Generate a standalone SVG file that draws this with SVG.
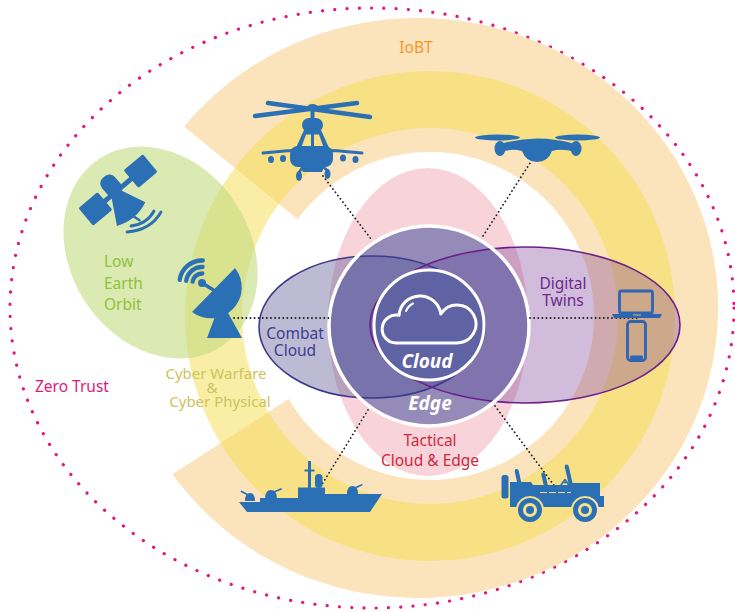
<svg xmlns="http://www.w3.org/2000/svg" width="735" height="612" viewBox="0 0 735 612">
  <defs>
    <style>
      text{font-family:"Noto Sans","Open Sans","DejaVu Sans",sans-serif;font-size:15.5px}
      .mid{text-anchor:middle}
      .blue{fill:#2b70b5}
      .bline{fill:none;stroke:#2b70b5;stroke-linecap:round;stroke-linejoin:round}
      .link{fill:none;stroke:#1e1e1e;stroke-width:1.8;stroke-dasharray:0.1 4;stroke-linecap:round}
      .badge{font-weight:700;font-style:italic;font-size:19px;fill:#fff}
      .tight{font-size:15px}
    </style>
  </defs>
  <rect width="735" height="612" fill="#fff"/>

  <!-- outer trust perimeter -->
  <g id="zero-trust">
    <ellipse cx="372" cy="308" rx="362" ry="300" fill="none" stroke="#e2177c" stroke-width="3.2" stroke-linecap="round" stroke-dasharray="0.1 12.2"/>
    <text x="35" y="392" fill="#e2177c">Zero Trust</text>
  </g>

  <!-- IoBT band, open on the left -->
  <g id="iobt">
    <path d="M184,126.6 A300,290 0 1 1 172.4,474.3 L288.6,399 A164,164 0 1 0 297.6,219.3 Z" fill="#fbe3bb"/>
    <text class="mid" x="416" y="53" fill="#f5962a" font-size="16">IoBT</text>
  </g>

  <!-- cyber ring -->
  <g id="cyber">
    <circle cx="430" cy="316" r="216.5" fill="none" stroke="#f5df55" stroke-opacity=".52" stroke-width="57"/>
    <g fill="#cdc25e" class="tight">
      <text class="mid tight" x="216" y="379">Cyber Warfare</text>
      <text class="mid tight" x="212" y="393">&amp;</text>
      <text class="mid tight" x="220" y="407">Cyber Physical</text>
    </g>
  </g>

  <!-- low earth orbit -->
  <g id="leo">
    <ellipse cx="160.5" cy="252.5" rx="90" ry="112" transform="rotate(-33 160.5 252.5)" fill="#c3da80" fill-opacity=".6"/>
    <g fill="#8fc23c">
      <text x="104" y="267">Low</text>
      <text x="104" y="289">Earth</text>
      <text x="104" y="310">Orbit</text>
    </g>
  </g>

  <!-- tactical cloud and edge -->
  <g id="tactical">
    <ellipse cx="428" cy="322" rx="100" ry="154" fill="#f8d4da"/>
    <g fill="#d0283a">
      <text class="mid" x="430" y="446">Tactical</text>
      <text class="mid" x="430" y="466">Cloud &amp; Edge</text>
    </g>
  </g>

  <g id="combat-cloud">
    <ellipse cx="372" cy="327" rx="113" ry="71" fill="#575591" fill-opacity=".4"/>
    <g fill="#3f3c93">
      <text class="mid" x="295" y="339">Combat</text>
      <text class="mid" x="295" y="356">Cloud</text>
    </g>
  </g>

  <g id="digital-twins">
    <ellipse cx="525" cy="325" rx="155" ry="78" fill="#7e4098" fill-opacity=".35"/>
    <g fill="#6a2b8f">
      <text class="mid" x="563" y="289">Digital</text>
      <text class="mid" x="563" y="306">Twins</text>
    </g>
  </g>

  <g id="edge">
    <circle cx="429" cy="326" r="100" fill="#444e9d" fill-opacity=".55"/>
    <ellipse cx="372" cy="327" rx="113" ry="71" fill="none" stroke="#3d3a8e" stroke-width="1.6"/>
    <ellipse cx="525" cy="325" rx="155" ry="78" fill="none" stroke="#6c1f8a" stroke-width="1.6"/>
    <circle cx="429" cy="326" r="100" fill="none" stroke="#fff" stroke-width="3.5"/>
    <text class="badge mid" x="430" y="410">Edge</text>
  </g>

  <g id="cloud">
    <circle cx="429" cy="325" r="55" fill="#5f63a4" stroke="#fff" stroke-width="3"/>
    <path d="M396,343 A14,14 0 1 1 399.05,315.3 A21,21 0 0 1 440.8,314.08 A19,19 0 1 1 457,343 Z" fill="none" stroke="#fff" stroke-width="3" stroke-linejoin="round"/>
    <path d="M406,311 A15,15 0 0 1 413,303.5" fill="none" stroke="#fff" stroke-width="2" stroke-linecap="round"/>
    <text class="badge mid" x="427" y="368">Cloud</text>
  </g>

  <!-- dotted links from assets to the core -->
  <g id="links" class="link">
    <path d="M323,176 L371,239"/>
    <path d="M532,160 L483,236"/>
    <path d="M234,318 L329,318"/>
    <path d="M530,318 L640,318"/>
    <path d="M368,410 L321,486"/>
    <path d="M495,406 L556,488"/>
  </g>

  <g id="helicopter">
    <path class="bline" stroke-width="4.5" d="M268,103 L370,117 M357,103 L255,116"/>
    <ellipse class="blue" cx="312.5" cy="107.5" rx="5.5" ry="3.5"/>
    <rect class="blue" x="310.5" y="108" width="4" height="12"/>
    <rect class="blue" x="302" y="118" width="21" height="14" rx="7"/>
    <path class="blue" fill-rule="evenodd" d="M304,130 L321,130 L330,150 L295,150 Z M301.5,147 L306,134.5 L311,134.5 L311,147 Z M314,134.5 L319,134.5 L323.5,147 L314,147 Z"/>
    <path class="bline" stroke-width="3" d="M263,153 Q312,147 362,153"/>
    <rect class="blue" x="290" y="146" width="43" height="21" rx="8"/>
    <ellipse class="blue" cx="271" cy="159.5" rx="3" ry="3.5"/>
    <ellipse class="blue" cx="283" cy="158.5" rx="3" ry="3.5"/>
    <ellipse class="blue" cx="343" cy="158" rx="3" ry="3.5"/>
    <ellipse class="blue" cx="355.5" cy="159.5" rx="3" ry="3.5"/>
    <path class="blue" d="M300,165 L325,165 L322,172 L303,172 Z"/>
    <path class="bline" stroke-width="2.5" d="M303,166 L299.5,172 M322,166 L327,170"/>
    <ellipse class="blue" cx="299" cy="176" rx="3" ry="5"/>
    <ellipse class="blue" cx="327.5" cy="174" rx="3" ry="5"/>
  </g>

  <g id="drone" class="blue">
    <ellipse cx="497.5" cy="137.5" rx="22.5" ry="3"/>
    <ellipse cx="577.5" cy="137.5" rx="22.5" ry="3"/>
    <ellipse cx="500" cy="148.5" rx="5.5" ry="7.5"/>
    <ellipse cx="576" cy="148.5" rx="5.5" ry="7.5"/>
    <path d="M501,144 Q537,133 575,144 L575,152 Q562,148 552,151 Q548,162 537,162 Q526,162 522,151 Q512,148 501,152 Z"/>
  </g>

  <g id="satellite">
    <g class="blue" transform="translate(118 190) rotate(-40)">
      <rect x="17" y="-11.5" width="25" height="23" rx="1.5"/>
      <rect x="-42" y="-11.5" width="25" height="23" rx="1.5"/>
      <rect x="-18" y="-2.5" width="36" height="5"/>
      <rect x="-11" y="-19" width="17" height="23" rx="7"/>
      <path d="M-10,2 L2,2 L13,27 Q-5,35 -24,27 Z"/>
      <path d="M-5,30 L-3,37" class="bline" stroke-width="2.5"/>
    </g>
    <path class="bline" stroke-width="2.8" d="M127,232 Q151,230 161,212 M131,226 Q147,224 154,211"/>
  </g>

  <g id="dish">
    <path class="blue" d="M235,268 A31,31 0 0 1 192,312 Z"/>
    <path class="blue" d="M217,311 L227,311 L242,338 L207,338 Z"/>
    <path class="bline" stroke-width="3.5" d="M213.5,290 L202,283"/>
    <circle class="blue" cx="202" cy="283" r="4"/>
    <path class="bline" stroke-width="4.3" d="M192.6,281.7 A9.5,9.5 0 0 1 202.3,273.5 M186.2,280.8 A16,16 0 0 1 202.6,267 M179.7,279.9 A22.5,22.5 0 0 1 202.8,260.5"/>
  </g>

  <g id="devices">
    <rect x="619.5" y="291" width="33" height="22" rx="2" fill="none" stroke="#2f64b0" stroke-width="2.8"/>
    <path d="M612,314 L662,314 L660,318 L614,318 Z" fill="#2f64b0"/>
    <rect x="633" y="314.4" width="8" height="1.2" fill="#c8a474"/>
    <rect x="627.5" y="321.5" width="18" height="39" rx="3" fill="none" stroke="#2f64b0" stroke-width="2.8"/>
    <rect x="630" y="355.5" width="13" height="3.5" rx="1" fill="#2f64b0"/>
  </g>

  <g id="ship" class="blue">
    <path d="M239,502 L260,502 L260,498 L298,498 L298,487.5 L325,487.5 L325,494 L382,494 L370,512 L247,512 Z"/>
    <rect x="308" y="461" width="3" height="27"/>
    <rect x="304.5" y="469.5" width="10" height="2"/>
    <rect x="315" y="474" width="7.5" height="14" rx="3.5"/>
    <path d="M245,501 Q245,493 250,493 Q255,493 255,501 Z"/>
    <path d="M265,499 Q265,490 271,490 Q277,490 277,499 Z"/>
    <path d="M347,494 Q347,486 352.5,486 Q358,486 358,494 Z"/>
    <path class="bline" stroke-width="1.8" d="M248,495 L241.5,491.5 M274,492 L281,489 M355,488 L361.5,485"/>
  </g>

  <g id="jeep">
    <rect class="blue" x="501.5" y="475" width="7" height="23.5" rx="2.5"/>
    <path class="blue" d="M510,482 L531,482 L533,485 L567,485 L569,483 L600,483 L600,496 L604,496 L604,507 L598.7,507 A14,14 0 0 0 571.3,507 L543.7,507 A14,14 0 0 0 516.3,507 L510,507 Z"/>
    <path class="bline" stroke-width="4" d="M516.7,471 L519.3,482.7 M543.3,474.5 L546,486 M566.7,466.5 L570.5,483"/>
    <path class="bline" stroke-width="1.5" d="M561,485 L565,479.5 L569,485 M562.5,482.5 L567.5,482.5"/>
    <path d="M540,492.5 L571,492.5" stroke="#f3d98a" stroke-width="1" stroke-dasharray="7 2"/>
    <circle class="blue" cx="530" cy="510" r="12"/>
    <circle cx="530" cy="510" r="7" fill="#f8e289"/>
    <circle class="blue" cx="530" cy="510" r="4"/>
    <circle class="blue" cx="585" cy="510" r="12"/>
    <circle cx="585" cy="510" r="7" fill="#f8e289"/>
    <circle class="blue" cx="585" cy="510" r="4"/>
  </g>
</svg>
